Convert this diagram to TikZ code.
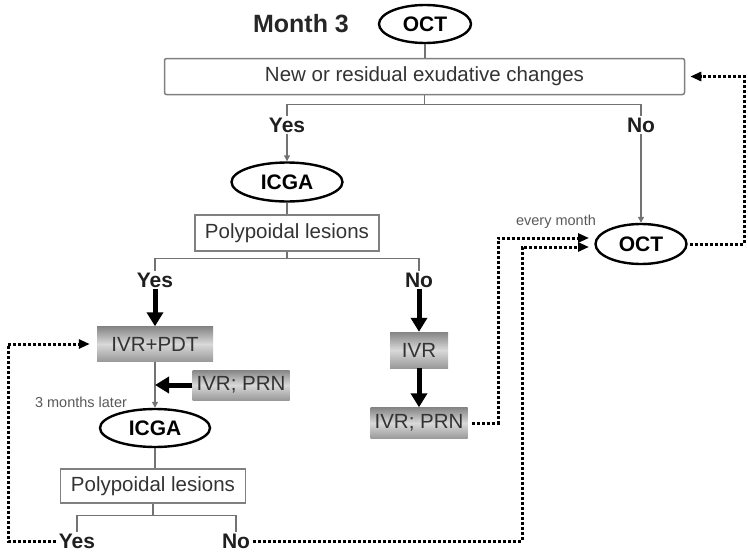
\documentclass[tikz,border=0pt]{standalone}
\usepackage{fontspec}
\setmainfont{Liberation Sans}
\usepackage{tikz}
\usetikzlibrary{shapes.geometric, arrows.meta}

\newcommand{\boxfont}{\fontsize{20.5pt}{24pt}\selectfont}
\newcommand{\answerfont}{\fontsize{21pt}{24pt}\selectfont\bfseries}
\newcommand{\notefont}{\fontsize{14.5pt}{16pt}\selectfont}

\tikzset{
    exam/.style={ellipse, draw=black, line width=2.4pt, inner sep=0pt, font=\answerfont},
    whitebox/.style={rectangle, draw=black!50, line width=1.5pt, inner sep=0pt, font=\boxfont, text=black!80},
    graybox/.style={rectangle, inner sep=0pt, top color=black!48, bottom color=black!40, middle color=black!15, font=\boxfont, text=black!80},
    answer/.style={inner sep=1pt, font=\answerfont, text=black!88},
    note/.style={inner sep=0pt, font=\notefont, text=black!65},
    link/.style={draw=black!55, line width=1.3pt},
    linkarrow/.style={link, -{Triangle[length=6pt,width=6pt]}},
    bigarrow/.style={draw=black, line width=5pt, -{Triangle[length=14pt,width=16pt]}},
    loopback/.style={draw=black, line width=3pt, dash pattern=on 3pt off 2pt, -{Triangle[length=11pt,width=9pt]}}
}

\begin{document}
\begin{tikzpicture}[x=1pt, y=-1pt]
        \useasboundingbox (0,0) rectangle (748,552);

        % Month 3 header
        \node[inner sep=0pt, font=\fontsize{25pt}{28pt}\selectfont\bfseries, text=black!85] (month) at (301,24) {Month 3};
        \node[exam, minimum width=92pt, minimum height=38pt] (oct1) at (425,24) {OCT};
        \node[whitebox, minimum width=520pt, minimum height=36pt, rounded corners=2pt] (changes) at (424.5,76.5) {New or residual exudative changes};
        \draw[link] (oct1.south) -- (oct1.south |- changes.north);

        % first split
        \draw[link] (changes.south) -- ++(0,9) coordinate (split1);
        \node[answer] (yes1) at (287,125) {Yes};
        \node[answer] (no1) at (641,125) {No};
        \draw[link] (split1) -| (yes1.north);
        \draw[link] (split1) -| (no1.north);

        % Yes: ICGA
        \node[exam, minimum width=111pt, minimum height=39pt] (icga1) at (287,182) {ICGA};
        \draw[linkarrow] (yes1.south) -- (icga1.north);
        \node[whitebox, minimum width=184pt, minimum height=36pt] (poly1) at (287,233) {Polypoidal lesions};
        \draw[link] (icga1.south) -- (poly1.north);

        % second split
        \draw[link] (poly1.south) -- ++(0,7) coordinate (split2);
        \node[answer] (yes2) at (155,280) {Yes};
        \node[answer] (no2) at (419,280) {No};
        \draw[link] (split2) -| (yes2.north);
        \draw[link] (split2) -| (no2.north);

        % Yes: IVR+PDT
        \node[graybox, minimum width=116pt, minimum height=35pt] (ivrpdt) at (155,344) {IVR+PDT};
        \draw[bigarrow] (yes2.south) -- (ivrpdt.north);
        \node[graybox, minimum width=97pt, minimum height=30pt] (prn1) at (241,385) {IVR; PRN};
        \node[note] (later) at (81,402) {3 months later};
        \node[exam, minimum width=110pt, minimum height=38pt] (icga2) at (155,428) {ICGA};
        \draw[linkarrow] (ivrpdt.south) -- (icga2.north);
        \draw[bigarrow] (prn1.west) -- (ivrpdt.south |- prn1.west);
        \node[whitebox, minimum width=185pt, minimum height=34pt] (poly2) at (153,486) {Polypoidal lesions};
        \draw[link] (icga2.south) -- (icga2.south |- poly2.north);

        % third split
        \draw[link] (poly2.south) -- ++(0,11.5) coordinate (split3);
        \node[answer] (yes3) at (77,541) {Yes};
        \node[answer] (no3) at (236,541) {No};
        \draw[link] (split3) -| (yes3.north);
        \draw[link] (split3) -| (no3.north);

        % No: IVR
        \node[graybox, minimum width=58pt, minimum height=36pt] (ivr) at (419,350) {IVR};
        \node[graybox, minimum width=97pt, minimum height=31pt] (prn2) at (419,423) {IVR; PRN};
        \draw[bigarrow] (no2.south) -- (ivr.north);
        \draw[bigarrow] (ivr.south) -- (prn2.north);

        % No: monthly OCT
        \node[exam, minimum width=91pt, minimum height=40pt] (oct2) at (641,244) {OCT};
        \node[note] (monthly) at (556,222) {every month};
        \draw[linkarrow] (no1.south) -- (oct2.north);

        % dotted returns
        \coordinate (rail0) at (8,0);
        \coordinate (rail1) at (498,0);
        \coordinate (rail2) at (522,0);
        \coordinate (rail3) at (744,0);
        \coordinate (in1) at (589,238);
        \coordinate (in2) at (589,247);
        \draw[loopback, shorten <=2pt, shorten >=7pt] (yes3.west) -| (rail0 |- ivrpdt.west) -- (ivrpdt.west);
        \draw[loopback, shorten <=4pt] (prn2.east) -| (rail1 |- in1) -- (in1);
        \draw[loopback, shorten <=2pt] (no3.east) -| (rail2 |- in2) -- (in2);
        \draw[loopback, shorten <=2pt, shorten >=5pt] (oct2.east) -| (rail3 |- changes.east) -- (changes.east);
    \end{tikzpicture}
\end{document}
